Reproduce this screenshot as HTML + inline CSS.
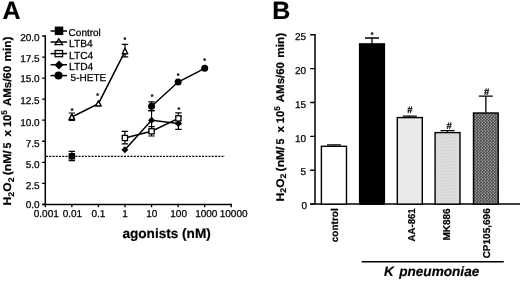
<!DOCTYPE html>
<html><head><meta charset="utf-8"><title>Figure</title>
<style>
html,body{margin:0;padding:0;background:#fff;}
body{width:520px;height:281px;overflow:hidden;}
svg{display:block;text-rendering:geometricPrecision;font-family:"Liberation Sans",Arial,Helvetica,sans-serif;fill:#000;}
.b{font-weight:bold;}
.t{font-size:10px;stroke:#000;stroke-width:0.25px;}
.b{stroke:#000;stroke-width:0.2px;}
.ln{stroke:#000;stroke-width:1.5;fill:none;}
.e{stroke:#000;stroke-width:1.2;fill:none;}
</style></head><body>
<svg width="520" height="281" viewBox="0 0 520 281">
<defs>
<pattern id="pd" x="472.9" y="112.6" width="3" height="3" patternUnits="userSpaceOnUse"><rect width="3" height="3" fill="#303030"/><circle cx="0.75" cy="0.75" r="0.7" fill="#ececec"/><circle cx="2.25" cy="2.25" r="0.7" fill="#ececec"/></pattern>
<pattern id="pl" x="434.5" y="132.2" width="3" height="3" patternUnits="userSpaceOnUse"><rect width="3" height="3" fill="#f2f2f2"/><circle cx="0.75" cy="0.75" r="0.75" fill="#b0b0b0"/><circle cx="2.25" cy="2.25" r="0.75" fill="#b0b0b0"/></pattern>
</defs>
<rect width="520" height="281" fill="#fff"/>
<text class="b" x="2.6" y="18.7" font-size="25">A</text>
<path class="ln" d="M45.3 35.3V204.4M42.099999999999994 204.4H231.95"/>
<path class="e" style="stroke-width:1.3" d="M42.10 204.40H45.3M42.10 183.35H45.3M42.10 162.30H45.3M42.10 141.25H45.3M42.10 120.20H45.3M42.10 99.15H45.3M42.10 78.10H45.3M42.10 57.05H45.3M42.10 36.00H45.3M45.30 204.4V207.20000000000002M71.86 204.4V207.20000000000002M98.43 204.4V207.20000000000002M124.99 204.4V207.20000000000002M151.56 204.4V207.20000000000002M178.12 204.4V207.20000000000002M204.69 204.4V207.20000000000002M231.25 204.4V207.20000000000002"/>
<text class="t" x="39.7" y="207.9" text-anchor="end">0.0</text>
<text class="t" x="39.7" y="189.0" text-anchor="end">2.5</text>
<text class="t" x="39.7" y="168.1" text-anchor="end">5.0</text>
<text class="t" x="39.7" y="146.9" text-anchor="end">7.5</text>
<text class="t" x="39.7" y="125.6" text-anchor="end">10.0</text>
<text class="t" x="39.7" y="104.4" text-anchor="end">12.5</text>
<text class="t" x="39.7" y="82.0" text-anchor="end">15.0</text>
<text class="t" x="39.7" y="61.9" text-anchor="end">17.5</text>
<text class="t" x="39.7" y="41.0" text-anchor="end">20.0</text>
<text class="t" x="46.30" y="217.1" text-anchor="middle">0.001</text>
<text class="t" x="72.46" y="217.1" text-anchor="middle">0.01</text>
<text class="t" x="98.43" y="217.1" text-anchor="middle">0.1</text>
<text class="t" x="124.99" y="217.1" text-anchor="middle">1</text>
<text class="t" x="151.86" y="217.1" text-anchor="middle">10</text>
<text class="t" x="178.62" y="217.1" text-anchor="middle">100</text>
<text class="t" x="206.29" y="217.1" text-anchor="middle">1000</text>
<text class="t" x="233.65" y="217.1" text-anchor="middle">10000</text>
<text class="b" x="166.6" y="238" font-size="13.6" text-anchor="middle">agonists (nM)</text>
<text class="b" transform="translate(10.9 205.40) rotate(-90)" font-size="11.2" textLength="28.00" lengthAdjust="spacingAndGlyphs">H<tspan font-size="8.29" dy="2.8">2</tspan><tspan dy="-2.8">O</tspan><tspan font-size="8.29" dy="2.8">2</tspan></text>
<text class="b" transform="translate(10.9 175.30) rotate(-90)" font-size="11.2" textLength="24.90" lengthAdjust="spacingAndGlyphs">(nM/</text>
<text class="b" transform="translate(10.9 148.40) rotate(-90)" font-size="11.2" textLength="5.90" lengthAdjust="spacingAndGlyphs">5</text>
<text class="b" transform="translate(10.9 136.50) rotate(-90)" font-size="11.2" textLength="6.60" lengthAdjust="spacingAndGlyphs">x</text>
<text class="b" transform="translate(10.9 127.10) rotate(-90)" font-size="11.2" textLength="16.90" lengthAdjust="spacingAndGlyphs">10<tspan font-size="8.29" dy="-3.9">5</tspan></text>
<text class="b" transform="translate(10.9 106.10) rotate(-90)" font-size="11.2" textLength="40.20" lengthAdjust="spacingAndGlyphs">AMs/60</text>
<text class="b" transform="translate(10.9 61.60) rotate(-90)" font-size="11.2" textLength="25.00" lengthAdjust="spacingAndGlyphs">min)</text>
<path d="M46 156.4H225" stroke="#000" stroke-width="1.4" stroke-dasharray="2.05 1.2" fill="none"/>
<path class="ln" d="M71.86 117.00 L98.43 103.60 L124.99 51.30"/>
<path class="ln" d="M124.89 138.00 L151.56 131.30 L178.42 118.40"/>
<path class="ln" d="M124.89 149.70 L151.56 120.20 L178.42 123.40"/>
<path class="ln" d="M151.56 106.30 L178.12 82.00 L204.69 68.30"/>
<path class="e" d="M71.86 113V120.3M68.66 113H75.06M68.66 120.3H75.06M124.99 44.3V56.8M121.78999999999999 44.3H128.19M121.78999999999999 56.8H128.19"/>
<path class="e" d="M124.89 131.3V143.8M121.69 131.3H128.09M121.69 143.8H128.09M151.56 126.6V136.0M148.36 126.6H154.76M148.36 136.0H154.76M178.42 112.8V124M175.22 112.8H181.61999999999998M175.22 124H181.61999999999998"/>
<path class="e" d="M151.56 110.7V129.7M148.36 110.7H154.76M148.36 129.7H154.76M178.42 116V129.3M175.22 116H181.61999999999998M175.22 129.3H181.61999999999998"/>
<path class="e" d="M151.56 101.8V110.7M148.36 101.8H154.76M148.36 110.7H154.76"/>
<path class="e" d="M71.86 151.3V160.7M68.66 151.3H75.06M68.66 160.7H75.06"/>
<path d="M71.86 114.10L74.66 119.40H69.06Z" fill="#fff" stroke="#000" stroke-width="1.35" stroke-linejoin="round"/>
<path d="M98.43 100.70L101.23 106.00H95.63Z" fill="#fff" stroke="#000" stroke-width="1.35" stroke-linejoin="round"/>
<path d="M124.99 48.40L127.79 53.70H122.19Z" fill="#fff" stroke="#000" stroke-width="1.35" stroke-linejoin="round"/>
<path d="M124.89 146.20L128.39 149.70L124.89 153.20L121.39 149.70Z" fill="#000"/>
<path d="M151.56 116.70L155.06 120.20L151.56 123.70L148.06 120.20Z" fill="#000"/>
<path d="M178.42 119.90L181.92 123.40L178.42 126.90L174.92 123.40Z" fill="#000"/>
<rect x="122.29" y="135.40" width="5.2" height="5.2" fill="#fff" stroke="#000" stroke-width="1.3"/>
<rect x="148.96" y="128.70" width="5.2" height="5.2" fill="#fff" stroke="#000" stroke-width="1.3"/>
<rect x="175.82" y="115.80" width="5.2" height="5.2" fill="#fff" stroke="#000" stroke-width="1.3"/>
<circle cx="151.56" cy="106.30" r="3.5" fill="#000"/>
<circle cx="178.12" cy="82.00" r="3.5" fill="#000"/>
<circle cx="204.69" cy="68.30" r="3.5" fill="#000"/>
<rect x="69.26" y="153.70" width="5.2" height="5.2" fill="#000" stroke="#000" stroke-width="1.3"/>
<text class="b" x="72" y="112.89999999999999" font-size="7" text-anchor="middle">*</text>
<text class="b" x="97.6" y="97.6" font-size="7" text-anchor="middle">*</text>
<text class="b" x="124.8" y="42.4" font-size="7" text-anchor="middle">*</text>
<text class="b" x="152" y="99.1" font-size="7" text-anchor="middle">*</text>
<text class="b" x="178" y="77.6" font-size="7" text-anchor="middle">*</text>
<text class="b" x="204.5" y="62.6" font-size="7" text-anchor="middle">*</text>
<text class="b" x="178.8" y="111.6" font-size="7" text-anchor="middle">*</text>
<rect x="55.40" y="27.20" width="7.2" height="7.2" fill="#000" stroke="#000" stroke-width="1.3"/>
<path class="ln" d="M50.6 31H67"/>
<text class="t" x="68.6" y="35.9">Control</text>
<path d="M58.8 38.8L62.6 44.7H55.0Z" fill="#fff" stroke="#000" stroke-width="1.3" stroke-linejoin="miter"/>
<path class="ln" d="M50.6 42H67"/>
<text class="t" x="69.0" y="47.1" style="font-size:10.2px">LTB4</text>
<rect x="55.1" y="50.5" width="7.5" height="6.2" fill="#fff" stroke="#000" stroke-width="1.3"/>
<path class="ln" d="M50.6 53.6H67"/>
<text class="t" x="69.0" y="58.5" style="font-size:10.2px">LTC4</text>
<path d="M59.00 60.40L63.50 64.90L59.00 69.40L54.50 64.90Z" fill="#000"/>
<path class="ln" d="M50.6 64.7H67"/>
<text class="t" x="69.0" y="70" style="font-size:10.2px">LTD4</text>
<circle cx="58.50" cy="75.60" r="4.0" fill="#000"/>
<path class="ln" d="M50.6 75.6H67"/>
<text class="t" x="70.6" y="81.1">5-HETE</text>
<text class="b" x="272.2" y="18.7" font-size="25">B</text>
<path class="ln" d="M315.0 34V204.1M310.2 204.1H520"/>
<path class="e" style="stroke-width:1.3" d="M310.20 204.10H315.0M310.20 170.23H315.0M310.20 136.36H315.0M310.20 102.49H315.0M310.20 68.62H315.0M310.20 34.75H315.0"/>
<text class="t" x="307" y="209.30" text-anchor="end">0</text>
<text class="t" x="306" y="175.43" text-anchor="end">5</text>
<text class="t" x="306" y="141.56" text-anchor="end">10</text>
<text class="t" x="306" y="107.69" text-anchor="end">15</text>
<text class="t" x="306" y="73.82" text-anchor="end">20</text>
<text class="t" x="306" y="39.95" text-anchor="end">25</text>
<text class="b" transform="translate(283.5 201.50) rotate(-90)" font-size="11.2" textLength="28.00" lengthAdjust="spacingAndGlyphs">H<tspan font-size="8.29" dy="2.8">2</tspan><tspan dy="-2.8">O</tspan><tspan font-size="8.29" dy="2.8">2</tspan></text>
<text class="b" transform="translate(283.5 171.40) rotate(-90)" font-size="11.2" textLength="24.90" lengthAdjust="spacingAndGlyphs">(nM/</text>
<text class="b" transform="translate(283.5 144.50) rotate(-90)" font-size="11.2" textLength="5.90" lengthAdjust="spacingAndGlyphs">5</text>
<text class="b" transform="translate(283.5 132.60) rotate(-90)" font-size="11.2" textLength="6.60" lengthAdjust="spacingAndGlyphs">x</text>
<text class="b" transform="translate(283.5 123.20) rotate(-90)" font-size="11.2" textLength="16.90" lengthAdjust="spacingAndGlyphs">10<tspan font-size="8.29" dy="-3.9">5</tspan></text>
<text class="b" transform="translate(283.5 102.20) rotate(-90)" font-size="11.2" textLength="40.20" lengthAdjust="spacingAndGlyphs">AMs/60</text>
<text class="b" transform="translate(283.5 57.70) rotate(-90)" font-size="11.2" textLength="25.00" lengthAdjust="spacingAndGlyphs">min)</text>
<path class="e" style="stroke-width:1.3" d="M333.95 145.7V144.8M326.95 144.8H340.95"/>
<rect x="321.40" y="146.30" width="25.10" height="57.80" fill="#fff" stroke="#000" stroke-width="1.4"/>
<path class="e" style="stroke-width:1.3" d="M372.00 43.3V38M365.00 38H379.00"/>
<rect x="359.60" y="43.90" width="24.80" height="160.20" fill="#000" stroke="#000" stroke-width="1.4"/>
<text class="b" x="372.00" y="37.300000000000004" font-size="7" text-anchor="middle">*</text>
<path class="e" style="stroke-width:1.3" d="M409.80 117V116.2M402.80 116.2H416.80"/>
<rect x="397.30" y="117.60" width="25.00" height="86.50" fill="#e9e9e9" stroke="#000" stroke-width="1.4"/>
<text class="b" x="410.00" y="113.2" font-size="9.5" text-anchor="middle">#</text>
<path class="e" style="stroke-width:1.3" d="M447.55 132V130.6M440.55 130.6H454.55"/>
<rect x="435.10" y="132.60" width="24.90" height="71.50" fill="url(#pl)" stroke="#000" stroke-width="1.4"/>
<text class="b" x="449.15" y="128.5" font-size="9.5" text-anchor="middle">#</text>
<path class="e" style="stroke-width:1.3" d="M485.85 112.4V96.2M478.85 96.2H492.85"/>
<rect x="473.50" y="113.00" width="24.70" height="91.10" fill="url(#pd)" stroke="#000" stroke-width="1.4"/>
<text class="b" x="486.65" y="95.0" font-size="9.5" text-anchor="middle">#</text>
<text class="b" transform="translate(338.2 208.3) rotate(-90)" font-size="10" text-anchor="end">control</text>
<text class="b" transform="translate(414.6 208.3) rotate(-90)" font-size="10" text-anchor="end" textLength="33.2" lengthAdjust="spacingAndGlyphs">AA-861</text>
<text class="b" transform="translate(450.2 208.3) rotate(-90)" font-size="10" text-anchor="end">MK886</text>
<text class="b" transform="translate(489.5 208.3) rotate(-90)" font-size="10" text-anchor="end">CP105,696</text>
<path d="M361.7 261.8H503.8" stroke="#000" stroke-width="1.5" fill="none"/>
<text class="b" x="384" y="275.7" font-size="13.6" font-style="italic">K <tspan dx="1.6">pneumoniae</tspan></text>
</svg>
</body></html>
